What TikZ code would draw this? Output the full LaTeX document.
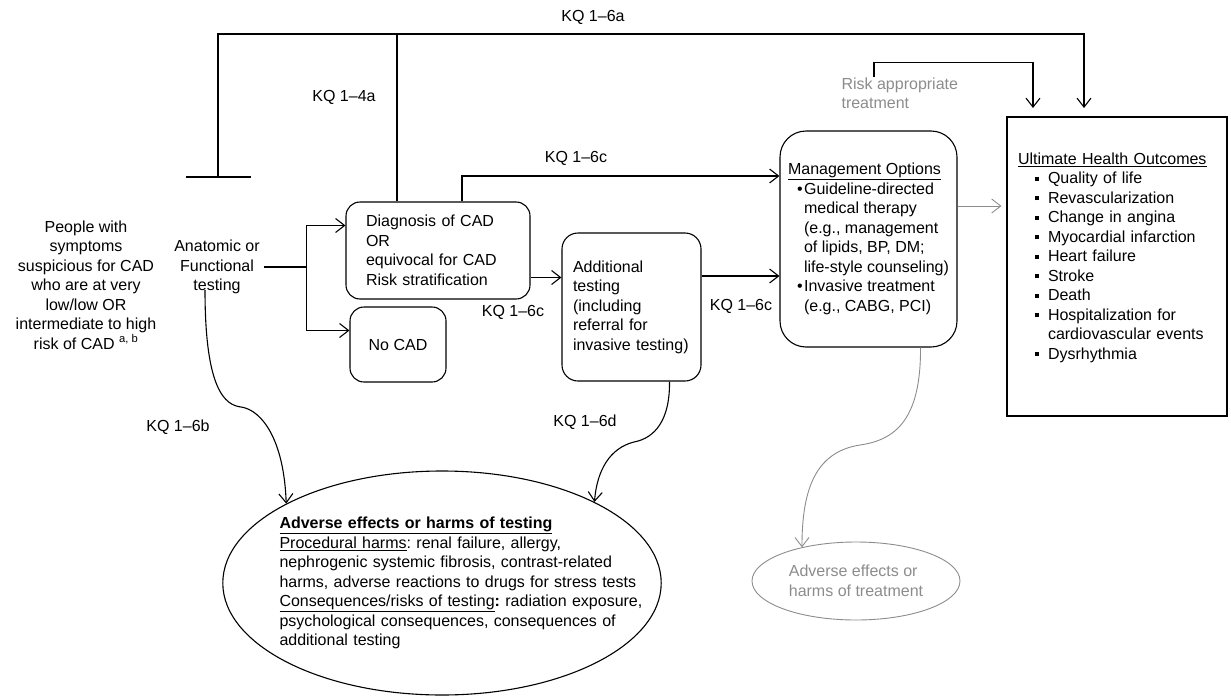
\documentclass[tikz,border=0pt]{standalone}
\usepackage{fontspec}
\setmainfont{Liberation Sans}
\usetikzlibrary{arrows.meta,shapes.geometric}
\definecolor{softgray}{RGB}{140,140,140}
\newcommand{\osq}{\rule[3pt]{4pt}{4pt}}

\begin{document}
\begin{tikzpicture}[x=1pt,y=-1pt,line width=1.1pt,
        font=\fontsize{16}{19.5}\selectfont\frenchspacing,
        >={Straight Barb[length=9pt,width=14pt]},
        box/.style={draw,rounded corners=14pt,align=left,inner xsep=0pt},
        faded/.style={softgray,line width=0.9pt}]
        
        \useasboundingbox (0,0) rectangle (1231,696);
        
        \node[align=center] (people) at (86,285) {People with\\symptoms\\suspicious for CAD\\who are at very\\low/low OR\\intermediate to high\\risk of CAD \textsuperscript{a, b}};
        \node[align=center] (test) at (217,267) {Anatomic or\\Functional\\testing};
        
        \node[box,text width=144pt,inner xsep=20pt,minimum height=97pt] (diag) at (438,250.5) {Diagnosis of CAD\\OR\\equivocal for CAD\\Risk stratification};
        \node[box,align=center,minimum width=96pt,minimum height=75pt] (nocad) at (398,344.5) {No CAD};
        \node[box,text width=117pt,inner xsep=11pt,minimum height=148pt,rounded corners=16pt] (addl) at (631.5,307) {Additional\\testing\\(including\\referral for\\invasive testing)};
        \node[box,minimum width=177pt,minimum height=216pt,rounded corners=26pt] (mgmt) at (868.5,239) {\underline{Management Options}\\
            \hspace*{9pt}\textbullet\hspace{1.5pt}Guideline-directed\\
            \hspace*{16pt}medical therapy\\
            \hspace*{16pt}(e.g., management\\
            \hspace*{16pt}of lipids, BP, DM;\\
            \hspace*{16pt}life-style counseling)\\
            \hspace*{9pt}\textbullet\hspace{1.5pt}Invasive treatment\\
            \hspace*{16pt}(e.g., CABG, PCI)};
        \node[draw,align=left,text width=198pt,inner xsep=11pt,minimum height=299pt] (outc) at (1117,266.5) {\underline{Ultimate Health Outcomes}\\
            \hspace*{17pt}\osq\hspace{9pt}Quality of life\\
            \hspace*{17pt}\osq\hspace{9pt}Revascularization\\
            \hspace*{17pt}\osq\hspace{9pt}Change in angina\\
            \hspace*{17pt}\osq\hspace{9pt}Myocardial infarction\\
            \hspace*{17pt}\osq\hspace{9pt}Heart failure\\
            \hspace*{17pt}\osq\hspace{9pt}Stroke\\
            \hspace*{17pt}\osq\hspace{9pt}Death\\
            \hspace*{17pt}\osq\hspace{9pt}Hospitalization for\\
            \hspace*{30pt}cardiovascular events\\
            \hspace*{17pt}\osq\hspace{9pt}Dysrhythmia\\[1.5pt]\mbox{}};
        
        \node[draw,ellipse,align=left,text width=409pt,inner xsep=-49.5pt,inner ysep=0pt,minimum height=224pt] (harms) at (442,583) {\leftskip=42pt
            \textbf{\underline{Adverse effects or harms of testing}}\\
            \underline{Procedural harms}: renal failure, allergy,\\
            nephrogenic systemic fibrosis, contrast-related\\
            harms, adverse reactions to drugs for stress tests\\
            \underline{Consequences/risks of testing}\textbf{:} radiation exposure,\\
            psychological consequences, consequences of\\
            additional testing\par};
        \node[draw=softgray,text=softgray,ellipse,line width=0.9pt,align=left,inner sep=0pt,minimum width=208pt,minimum height=78pt] (tharm) at (856,581) {Adverse effects or\\harms of treatment};
        \node[softgray,anchor=west,align=left,inner sep=0pt] (risk) at (841,93.5) {Risk appropriate\\treatment};
        
        \node (kqa) at (593,17) {KQ 1--6a};
        \node (kq4a) at (344,97) {KQ 1--4a};
        \node (kqc1) at (576,158) {KQ 1--6c};
        \node (kqc2) at (513,312) {KQ 1--6c};
        \node (kqc3) at (741,306) {KQ 1--6c};
        \node (kqb) at (178,427) {KQ 1--6b};
        \node (kqd) at (585,422) {KQ 1--6d};
        
        \coordinate (tee) at (218,177);
        \coordinate (top) at (218,34);
        \coordinate (tipa) at (1084,108);
        \coordinate (tipr) at (1033,108);
        
        \draw ([xshift=-32pt]tee) -- ([xshift=33pt]tee);
        \draw[->] (tee) -- (top) -| (tipa);
        \draw ([xshift=-41pt]diag.north) -- ([xshift=-41pt]diag.north |- top);
        \draw[->] ([xshift=24pt]diag.north) |- ([yshift=63pt]mgmt.west);
        \draw[->] ([xshift=33pt]risk.north west) -- ++(0,-15) -| (tipr);
        
        \draw[line width=2.2pt] (test.east) -- ++(43,0) coordinate (fork);
        \draw[->] (fork) |- ([yshift=25pt]diag.west);
        \draw[->] (fork) |- ([yshift=14pt]nocad.west);
        \draw[->] ([yshift=-27pt]diag.east) coordinate (da) -- (da -| addl.west);
        \draw[->] ([yshift=31pt]addl.east) coordinate (am) -- (am -| mgmt.west);
        \draw[->,faded,shorten >=5pt] ([yshift=33pt]mgmt.east) coordinate (mo) -- (mo -| outc.west);
        
        \draw[->] ([shift={(-12,-8)}]test.south) .. controls (205,390) and (225,405) .. (241,407) .. controls (262,410) and (284,440) .. (harms.153);
        \draw[->] ([xshift=38pt]addl.south) .. controls (670,420) and (655,438) .. (634,442) .. controls (610,448) and (597,470) .. (harms.28);
        \draw[->,faded] ([xshift=52pt]mgmt.south) .. controls (921,420) and (895,440) .. (860,445) .. controls (815,452) and (802,490) .. (tharm.148);
        
        \end{tikzpicture}
\end{document}
